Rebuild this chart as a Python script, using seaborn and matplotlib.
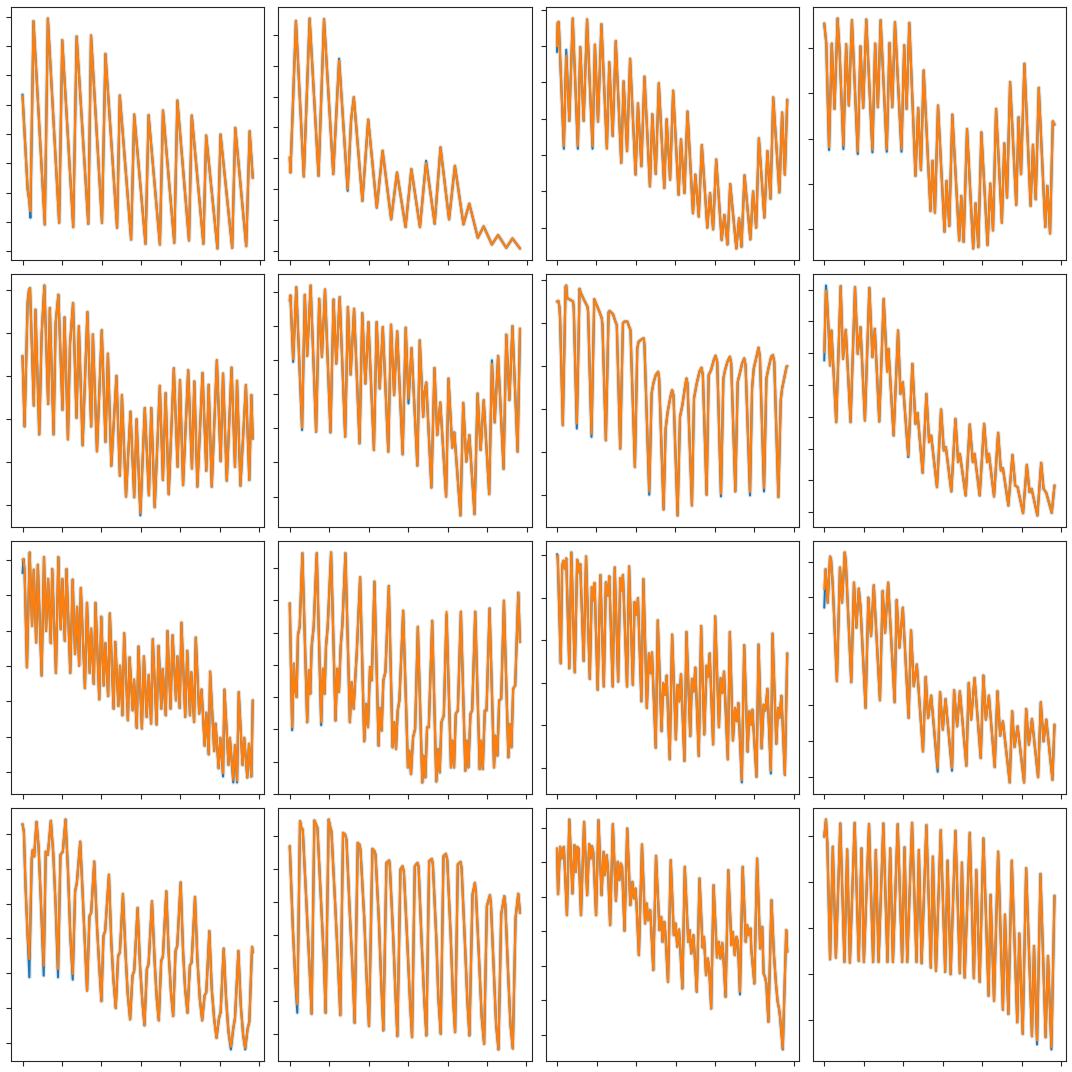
import matplotlib
matplotlib.use("Agg")
import matplotlib.pyplot as plt
import pandas as pd
import seaborn as sns
from matplotlib.ticker import MultipleLocator

# ---- data: (t, value) key readings for the orange series of each panel ----
panel_00 = [(0,465),(15,185),(20,150),(23,120),(32,690),(65,80),(74,698),(107,85),(116,633),(148,72),(158,644),(192,82),(200,647),(232,85),(242,592),(276,70),(284,467),(317,35),(326,410),(359,22),(368,408),(401,20),(410,422),(443,25),(452,452),(486,32),(494,407),(528,22),(536,347),(569,8),(578,350),(612,10),(621,370),(653,15),(663,360),(672,220)]
panel_01 = [(0,280),(2,235),(18,688),(41,223),(58,695),(84,225),(100,693),(127,230),(144,570),(169,185),(179,392),(187,460),(212,150),(229,393),(254,130),(271,300),(296,95),(313,235),(338,72),(355,245),(380,72),(398,264),(423,82),(440,310),(465,95),(482,255),(507,80),(524,142),(549,40),(566,74),(590,20),(608,48),(632,10),(650,38),(672,8)]
panel_02 = [(0,540),(2,610),(5,613),(20,243),(27,513),(36,318),(46,623),(61,243),(68,538),(78,318),(88,620),(104,243),(111,545),(120,316),(130,606),(146,236),(153,493),(163,273),(172,556),(188,193),(195,436),(205,228),(214,503),(230,158),(237,370),(247,183),(256,450),(272,123),(279,338),(289,160),(298,430),(314,118),(321,323),(331,143),(340,408),(356,98),(363,263),(373,103),(382,346),(398,43),(405,158),(415,33),(424,246),(440,0),(448,103),(457,-5),(466,203),(482,-37),(490,38),(499,-50),(507,130),(525,-62),(533,28),(540,-57),(549,156),(566,-35),(574,108),(583,0),(591,266),(607,30),(616,228),(625,86),(633,388),(651,105),(659,343),(667,158),(674,381)]
panel_03 = [(0,615),(3,585),(6,555),(8,470),(14,245),(22,555),(30,360),(39,630),(45,530),(56,250),(64,553),(72,370),(81,625),(98,233),(106,547),(114,363),(123,627),(141,238),(149,555),(157,365),(165,625),(183,240),(191,557),(199,365),(207,619),(226,240),(234,550),(241,360),(249,617),(267,160),(275,363),(283,177),(291,475),(311,55),(317,205),(324,50),(333,370),(352,-7),(358,145),(366,10),(375,343),(395,-33),(401,100),(408,-37),(418,300),(436,-57),(443,78),(451,-53),(460,290),(478,-47),(486,137),(494,-3),(503,360),(520,20),(527,257),(535,95),(544,440),(562,73),(569,335),(576,165),(586,495),(604,70),(611,253),(619,90),(628,423),(647,7),(653,130),(661,-12),(669,323),(674,313)]
panel_10 = [(0,450),(6,237),(15,610),(19,650),(22,655),(33,300),(38,590),(49,213),(56,515),(64,663),(75,305),(80,595),(91,213),(97,550),(105,635),(117,287),(123,567),(133,198),(139,485),(148,610),(158,263),(165,540),(176,180),(190,583),(201,237),(206,515),(218,162),(232,528),(243,190),(250,457),(260,118),(275,390),(285,88),(291,332),(303,25),(316,282),(327,23),(334,259),(345,-25),(358,293),(370,29),(377,293),(387,-7),(402,360),(411,75),(419,338),(428,32),(443,413),(454,115),(461,377),(470,60),(485,407),(496,110),(503,373),(512,55),(527,399),(538,103),(545,363),(554,55),(569,437),(580,132),(587,397),(598,73),(612,415),(622,115),(628,375),(638,58),(654,362),(664,75),(670,332),(674,200)]
panel_11 = [(0,590),(2,605),(10,413),(19,630),(36,207),(44,607),(51,423),(61,635),(77,195),(86,595),(94,420),(103,623),(119,193),(128,593),(136,400),(146,600),(162,180),(170,570),(178,367),(188,565),(204,160),(212,552),(221,340),(230,525),(246,140),(254,525),(263,325),(272,510),(288,135),(296,517),(305,305),(314,497),(330,127),(339,508),(347,295),(356,447),(373,93),(380,470),(390,240),(394,315),(399,343),(414,27),(423,387),(431,185),(440,283),(457,0),(464,355),(475,147),(481,193),(499,-57),(507,282),(516,105),(525,185),(540,-53),(549,310),(558,140),(567,290),(583,7),(591,400),(599,223),(609,423),(625,83),(633,487),(642,290),(651,513),(666,135),(673,505)]
panel_12 = [(0,578),(4,580),(7,563),(9,528),(17,208),(25,623),(27,626),(30,588),(39,583),(47,578),(49,558),(58,213),(66,616),(70,603),(79,583),(89,563),(91,548),(101,183),(109,585),(116,568),(124,548),(131,528),(133,508),(143,163),(151,546),(154,550),(164,540),(171,518),(175,508),(185,138),(193,513),(197,518),(206,518),(211,503),(215,493),(228,83),(235,438),(239,458),(249,466),(254,468),(256,448),(270,10),(277,303),(282,333),(289,358),(296,368),(299,348),(312,-44),(318,198),(324,248),(332,293),(337,313),(341,298),(353,-62),(360,233),(367,268),(374,318),(379,348),(382,333),(395,-32),(401,288),(409,333),(417,368),(423,380),(427,358),(438,0),(444,358),(451,373),(459,403),(464,416),(469,398),(480,3),(487,348),(492,373),(499,398),(506,413),(510,393),(522,10),(529,338),(534,358),(542,393),(548,408),(552,388),(565,8),(571,318),(576,378),(584,413),(590,440),(594,413),(606,20),(613,348),(619,378),(627,413),(632,418),(636,398),(648,-7),(655,283),(659,318),(665,348),(672,383),(674,385)]
panel_13 = [(0,480),(5,665),(8,640),(13,540),(17,440),(21,545),(35,270),(48,678),(55,460),(63,547),(77,270),(90,675),(98,475),(106,555),(119,275),(132,673),(141,465),(148,550),(161,272),(174,640),(184,420),(188,490),(203,230),(216,545),(223,355),(230,390),(246,170),(258,445),(267,265),(273,298),(288,118),(299,355),(307,210),(313,230),(330,75),(342,308),(350,185),(356,195),(372,62),(384,280),(392,150),(397,175),(414,50),(426,263),(435,150),(440,175),(455,50),(468,265),(477,150),(482,175),(497,47),(509,238),(517,125),(523,132),(539,20),(551,172),(559,80),(566,75),(582,-3),(593,142),(601,60),(607,70),(624,-10),(635,148),(642,70),(650,58),(666,-2),(674,80)]
panel_20 = [(0,641),(3,643),(6,611),(13,316),(21,663),(28,441),(33,611),(40,391),(45,626),(56,291),(63,649),(69,426),(75,583),(83,389),(87,613),(98,299),(105,649),(112,431),(117,583),(124,396),(129,613),(140,299),(147,581),(154,356),(160,499),(166,321),(171,556),(183,253),(189,511),(197,299),(201,433),(209,266),(214,511),(225,219),(231,469),(238,261),(243,389),(251,229),(256,479),(267,191),(272,393),(281,199),(286,321),(293,171),(298,419),(309,156),(314,346),(323,186),(327,279),(335,133),(340,379),(350,131),(356,349),(364,166),(370,293),(377,146),(382,401),(393,143),(399,381),(407,191),(411,311),(420,171),(425,426),(434,191),(440,413),(450,216),(454,349),(461,193),(466,451),(477,166),(483,366),(491,171),(495,301),(503,151),(508,406),(518,176),(525,249),(534,79),(539,179),(546,53),(550,303),(562,63),(566,146),(575,11),(580,103),(588,-4),(592,249),(604,21),(608,103),(618,-24),(623,81),(629,-27),(634,241),(645,21),(650,103),(659,-17),(664,85),(671,-14),(675,216)]
panel_21 = [(0,569),(7,199),(12,389),(16,309),(20,289),(24,474),(29,499),(37,719),(51,214),(56,369),(60,299),(64,439),(70,499),(79,719),(92,214),(97,374),(102,299),(106,439),(111,499),(121,721),(134,219),(139,374),(144,304),(149,439),(154,504),(163,719),(176,214),(181,334),(187,254),(192,349),(196,419),(206,647),(218,157),(224,269),(229,199),(235,379),(240,339),(248,634),(260,144),(264,257),(269,189),(274,339),(280,364),(290,621),(301,139),(306,214),(311,134),(316,249),(321,279),(332,547),(346,79),(350,129),(355,59),(361,169),(367,194),(375,499),(388,34),(392,114),(397,49),(402,199),(407,199),(417,517),(429,37),(434,134),(439,64),(444,214),(451,234),(459,544),(472,79),(476,159),(481,79),(486,239),(492,249),(501,544),(514,69),(518,159),(523,79),(529,239),(534,249),(543,544),(556,74),(560,159),(565,74),(571,249),(576,249),(585,554),(598,79),(602,174),(608,114),(613,279),(619,284),(627,577),(640,109),(644,209),(649,139),(654,314),(660,324),(669,601),(674,454)]
panel_22 = [(0,635),(2,640),(11,315),(15,610),(19,625),(23,600),(27,632),(36,300),(42,650),(52,288),(59,628),(64,590),(68,615),(78,322),(85,638),(96,268),(102,545),(106,505),(110,558),(119,235),(127,582),(137,245),(143,560),(149,520),(153,578),(163,245),(169,605),(179,260),(185,572),(190,535),(193,582),(205,245),(211,608),(222,250),(227,500),(232,462),(237,512),(247,200),(253,570),(263,180),(269,345),(274,285),(278,348),(289,60),(295,445),(306,110),(311,255),(316,220),(321,278),(330,25),(337,402),(348,85),(353,250),(358,200),(363,282),(373,20),(379,410),(390,95),(395,268),(400,230),(405,302),(415,35),(422,428),(431,100),(438,308),(442,275),(447,345),(457,70),(463,457),(474,122),(479,270),(484,225),(489,290),(500,25),(506,410),(515,82),(521,180),(526,140),(531,195),(541,-38),(548,370),(558,48),(563,170),(568,130),(572,175),(584,-28),(590,372),(599,58),(605,190),(610,172),(616,238),(626,-10),(631,405),(642,72),(647,180),(651,150),(657,217),(667,-22),(674,345)]
panel_23 = [(0,561),(4,621),(10,521),(17,659),(20,649),(25,571),(37,286),(46,626),(52,521),(60,671),(63,646),(79,283),(87,581),(94,446),(101,563),(106,511),(121,206),(129,536),(137,421),(145,573),(163,229),(171,556),(178,431),(187,581),(206,223),(212,529),(220,386),(230,506),(247,176),(254,438),(262,271),(271,336),(289,76),(297,299),(304,176),(313,243),(332,26),(339,253),(347,141),(355,233),(374,26),(380,259),(389,151),(397,256),(416,33),(423,281),(430,171),(440,296),(458,56),(466,303),(473,171),(482,243),(499,29),(507,256),(515,123),(523,166),(543,-17),(550,196),(557,89),(566,151),(585,-17),(591,203),(599,96),(608,173),(626,-1),(634,223),(642,106),(650,171),(668,-9),(674,156)]
panel_30 = [(0,661),(4,638),(9,468),(15,323),(20,253),(27,558),(30,583),(34,563),(41,668),(47,593),(54,423),(62,233),(68,578),(74,568),(83,671),(90,573),(97,413),(104,223),(111,568),(118,578),(126,675),(133,523),(140,323),(147,208),(154,458),(159,483),(169,608),(176,453),(182,313),(189,158),(196,383),(201,393),(210,548),(218,353),(224,243),(231,126),(237,323),(242,338),(253,508),(260,303),(266,193),(273,105),(280,263),(285,273),(294,450),(302,263),(308,148),(315,71),(322,203),(327,218),(337,408),(344,233),(351,123),(357,53),(364,223),(369,238),(379,428),(387,243),(393,133),(399,68),(406,248),(411,261),(421,458),(428,268),(435,148),(441,81),(448,278),(453,293),(463,485),(470,278),(476,163),(483,91),(490,233),(495,243),(505,441),(512,253),(519,133),(526,68),(533,143),(538,153),(547,338),(554,163),(561,73),(568,15),(575,73),(580,93),(589,285),(596,133),(603,33),(610,-12),(617,43),(622,75),(632,278),(639,113),(646,23),(652,-15),(659,43),(664,63),(672,290),(674,273)]
panel_31 = [(0,563),(9,318),(16,168),(22,88),(30,638),(34,618),(38,613),(49,388),(57,218),(64,60),(72,640),(77,628),(81,618),(92,388),(100,218),(105,63),(114,643),(119,618),(122,608),(133,388),(141,218),(148,56),(156,603),(162,598),(166,583),(176,358),(184,188),(190,33),(199,573),(204,568),(207,553),(218,348),(225,168),(232,23),(242,555),(248,548),(251,538),(261,338),(268,148),(274,10),(283,513),(291,520),(293,503),(303,288),(310,108),(315,-7),(324,493),(330,503),(334,488),(344,278),(352,98),(358,-10),(366,503),(374,513),(377,503),(386,278),(394,98),(400,-5),(408,518),(416,525),(419,508),(429,288),(435,108),(442,0),(450,533),(457,540),(461,523),(471,298),(478,108),(484,5),(492,508),(500,516),(503,498),(513,268),(520,98),(526,-5),(535,418),(542,453),(545,423),(554,228),(562,48),(569,-30),(577,383),(586,416),(589,388),(597,198),(604,28),(611,-47),(619,358),(628,413),(631,388),(639,188),(646,28),(653,-44),(661,348),(669,420),(674,363)]
panel_32 = [(0,558),(3,421),(9,563),(13,528),(17,553),(20,563),(29,358),(36,645),(45,423),(51,568),(55,488),(59,563),(63,558),(70,358),(79,638),(88,418),(94,571),(98,528),(102,565),(106,545),(114,358),(121,643),(130,418),(136,548),(140,478),(145,538),(149,493),(155,328),(163,631),(172,401),(177,518),(182,463),(186,513),(190,503),(197,311),(205,618),(214,388),(220,458),(224,408),(229,438),(232,393),(239,238),(248,570),(257,333),(262,393),(266,343),(272,373),(275,318),(281,193),(289,536),(299,313),(304,353),(308,278),(313,338),(316,308),(324,158),(332,523),(341,298),(346,333),(351,263),(356,315),(359,273),(366,138),(373,503),(383,278),(387,313),(392,243),(398,298),(401,253),(408,128),(416,468),(425,261),(429,293),(435,178),(440,228),(444,203),(450,78),(457,448),(467,231),(472,278),(477,228),(482,275),(485,243),(492,113),(500,493),(509,268),(513,308),(519,238),(524,293),(528,278),(534,128),(542,503),(551,278),(555,328),(560,298),(565,318),(567,258),(576,153),(584,528),(593,258),(599,323),(603,183),(607,173),(611,153),(617,38),(626,403),(633,243),(639,153),(644,98),(648,78),(651,53),(659,-42),(669,313),(672,248)]
panel_33 = [(0,552),(5,604),(9,532),(17,182),(25,522),(34,187),(47,592),(59,174),(67,514),(75,172),(89,594),(101,177),(109,517),(116,174),(131,590),(143,174),(151,512),(159,174),(173,592),(185,174),(193,517),(201,174),(215,590),(228,174),(235,520),(243,174),(257,594),(270,174),(277,512),(285,170),(299,587),(312,157),(318,492),(327,147),(341,572),(354,144),(361,480),(370,137),(384,570),(397,140),(403,474),(411,127),(426,564),(438,125),(445,452),(455,114),(466,547),(481,72),(487,377),(497,57),(509,507),(523,30),(529,317),(539,17),(549,480),(565,-8),(571,260),(581,-43),(591,457),(608,-50),(614,222),(623,-63),(633,440),(648,-53),(655,192),(665,-83),(674,374)]

# blue series: same readings except where the blue line visibly departs
blue_00 = {0: 470, 23: 100}
blue_01 = {144: 575, 169: 180, 398: 270}
blue_02 = {0: 523, 20: 235, 27: 530, 61: 235, 104: 235}
blue_03 = {14: 237, 56: 240, 98: 225, 141: 230, 183: 232, 226: 232}
blue_10 = {15: 615, 345: -32}
blue_11 = {10: 405, 36: 200, 347: 280, 591: 410}
blue_12 = {58: 198, 101: 173, 270: 0, 480: -5, 565: -2, 606: 10}
blue_13 = {0: 455, 5: 680, 184: 430, 246: 165}
blue_20 = {0: 601, 588: -14, 618: -32, 629: -32}
blue_21 = {7: 190, 92: 205, 459: 535}
blue_22 = {0: 645, 541: -45, 626: -18}
blue_23 = {0: 506, 332: 15, 374: 18}
blue_30 = {20: 198, 62: 203, 104: 198, 147: 191, 610: -20, 652: -20}
blue_31 = {22: 63}
blue_32 = {534: 120, 659: -45}
blue_33 = {623: -75, 665: -90}

panels = [[panel_00, panel_01, panel_02, panel_03],
          [panel_10, panel_11, panel_12, panel_13],
          [panel_20, panel_21, panel_22, panel_23],
          [panel_30, panel_31, panel_32, panel_33]]
blues = [[blue_00, blue_01, blue_02, blue_03],
         [blue_10, blue_11, blue_12, blue_13],
         [blue_20, blue_21, blue_22, blue_23],
         [blue_30, blue_31, blue_32, blue_33]]

# tick spacing per panel (y) and shared x tick spacing
ystep = [[87.9, 92.4, 108.3, 135.75],
         [130.0, 102.8, 128.2, 95.4],
         [106.8, 96.3, 128.4, 107.3],
         [105.2, 98.8, 103.5, 138.75]]
xstep = 115.5

colors = ["#1f77b4", "#ff7f0e"]

sns.set_style("ticks")
fig, axes = plt.subplots(4, 4, figsize=(10.72, 10.72), dpi=100)
fig.subplots_adjust(left=11/1072, right=1066/1072, top=1-7/1072, bottom=1-1061/1072,
                    wspace=14/253.25, hspace=14/253)

for r in range(4):
    for c in range(4):
        ax = axes[r][c]
        pts = panels[r][c]
        t = [p[0] for p in pts]
        yo = [p[1] for p in pts]
        yb = list(yo)
        for k, v in blues[r][c].items():
            yb[t.index(k)] = v
        df = pd.DataFrame({"t": t + t, "value": yb + yo,
                           "series": ["actual"] * len(t) + ["predicted"] * len(t)})
        # faint uncertainty halo under each series
        sns.lineplot(data=df, x="t", y="value", hue="series", palette=colors,
                     ax=ax, legend=False, linewidth=3.2, alpha=0.14,
                     estimator=None, sort=False)
        sns.lineplot(data=df, x="t", y="value", hue="series", palette=colors,
                     ax=ax, legend=False, linewidth=1.5,
                     estimator=None, sort=False)
        ax.xaxis.set_major_locator(MultipleLocator(xstep))
        ax.yaxis.set_major_locator(MultipleLocator(ystep[r][c]))
        ax.tick_params(labelbottom=False, labelleft=False)
        ax.set_xlabel("")
        ax.set_ylabel("")

fig.savefig("out.png", dpi=100)
